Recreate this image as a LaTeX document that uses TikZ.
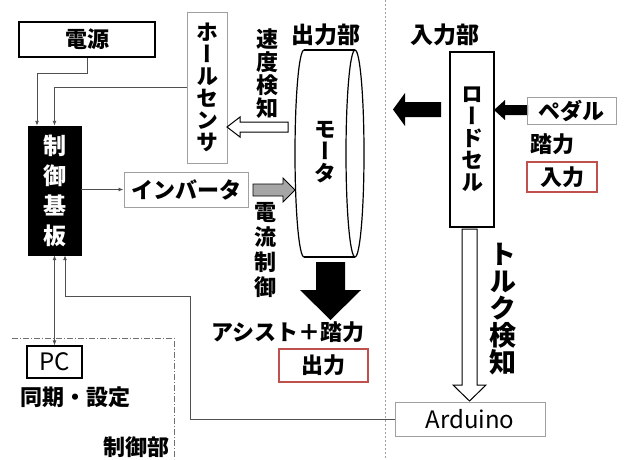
\documentclass[tikz,border=0pt]{standalone}
\usepackage{fontspec}
\setmainfont{Noto Sans CJK JP}
\newfontfamily\vjp[RawFeature=+vert]{Noto Sans CJK JP}
\usetikzlibrary{arrows.meta,calc}
\definecolor{boxgray}{HTML}{A0A0A0}
\definecolor{redbox}{HTML}{C0504D}
\definecolor{linegray}{HTML}{505050}
\definecolor{arrgray}{HTML}{A6A6A6}
\begin{document}
\begin{tikzpicture}[x=1pt,y=-1pt,
  jp/.style={font=\bfseries\fontsize{22}{22}\selectfont, inner sep=0pt},
  vt/.style={font=\vjp\bfseries\fontsize{22}{22}\selectfont, align=center, inner sep=0pt},
  blackbox/.style={draw=black, line width=1.3pt, inner sep=0pt},
  graybox/.style={draw=boxgray, line width=1pt, inner sep=0pt},
  redframe/.style={draw=redbox, line width=1.3pt, inner sep=0pt},
  conn/.style={draw=linegray, line width=0.9pt, -{Latex[length=5pt,width=4pt]}},
  connboth/.style={draw=linegray, line width=0.9pt, {Latex[length=5pt,width=4pt]}-{Latex[length=5pt,width=4pt]}},
  hollow/.style={draw=black, fill=white, line width=1pt, line join=miter},
  solidarrow/.style={fill=black},
  greyarrow/.style={draw=black, fill=arrgray, line width=0.8pt},
  cyl/.style={draw=black, line width=1.2pt},
]
\useasboundingbox (0,0) rectangle (628,459);

% separators
\draw[boxgray, line width=1pt, dash pattern=on 2pt off 2pt] (385,0) -- (385,459);
\draw[boxgray!70!black, line width=0.8pt, dash pattern=on 6pt off 2pt on 1pt off 2pt] (12,338) -- (174,338) -- (174,459);

% control part
\node[blackbox, jp, minimum width=136, minimum height=35] (dengen) at (87,39.5) {電源};
\node[graybox, vt, minimum width=40, minimum height=151] (hall) at (207,87.5) {ホ\\ー\\ル\\セ\\ン\\サ};
\node[fill=black, draw=black, minimum width=53, minimum height=129, vt, text=white,
      font=\vjp\bfseries\fontsize{23}{30}\selectfont] (board) at (54.5,190.5) {制\\御\\基\\板};
\node[graybox, jp, minimum width=124, minimum height=35] (inv) at (186,189.5) {インバータ};
\node[blackbox, minimum width=55, minimum height=32, font=\fontsize{24}{24}\selectfont] (pc) at (54.5,362) {PC};
\node[jp] (sync) at (75.5,397) {同期・設定};
\node[jp] (ctrl) at (136,447) {制御部};

% labels
\node[vt, font=\vjp\bfseries\fontsize{22}{23}\selectfont] (speed) at (267,73.5) {速\\度\\検\\知};
\node[vt, font=\vjp\bfseries\fontsize{22}{25}\selectfont] (curr) at (265,250) {電\\流\\制\\御};
\node[jp, font=\bfseries\fontsize{23}{23}\selectfont] (outpart) at (326,35) {出力部};
\node[jp, font=\bfseries\fontsize{23}{23}\selectfont] (inpart) at (445,35) {入力部};

% motor
\node[minimum width=70, minimum height=207, inner sep=0pt] (motor) at (329.5,153.5) {};
\draw[cyl] (304,50) -- (355,50) (304,257) -- (355,257);
\draw[cyl] (355,153.5) ellipse [x radius=9pt, y radius=103.5pt];
\draw[cyl] (304,50) arc[start angle=90, end angle=270, x radius=9pt, y radius=103.5pt];
\node[vt] (motortext) at (325,152) {モ\\ー\\タ};

% block arrows around motor
\draw[hollow] (288,122) -- (240,122) -- (240,117) -- (227,127) -- (240,137) -- (240,132) -- (288,132) -- cycle;
\draw[greyarrow] (253,184) -- (283,184) -- (283,178) -- (295,190) -- (283,202) -- (283,196) -- (253,196) -- cycle;
\fill[solidarrow] (316,262) -- (345,262) -- (345,290) -- (361,290) -- (330.5,320) -- (300,290) -- (316,290) -- cycle;
\node[jp] (assist) at (288,332) {アシスト＋踏力};
\node[redframe, jp, minimum width=89, minimum height=33] (out) at (323.5,365.5) {出力};

% input part
\node[blackbox, vt, minimum width=44, minimum height=175] (lc) at (472,139.5) {ロ\\ー\\ド\\セ\\ル};
\fill[solidarrow] (441,102) -- (405,102) -- (405,93) -- (393,109.5) -- (405,126) -- (405,117) -- (441,117) -- cycle;
\fill[solidarrow] (528,105) -- (505,105) -- (505,100) -- (494,110) -- (505,120) -- (505,115) -- (528,115) -- cycle;
\node[graybox, jp, minimum width=89, minimum height=27] (pedal) at (571.5,110.5) {ペダル};
\node[jp] (force) at (552,144) {踏力};
\node[redframe, jp, minimum width=70, minimum height=30] (inp) at (562,177) {入力};
\draw[hollow] (462,229) -- (477,229) -- (477,385) -- (486,385) -- (469.5,401) -- (453,385) -- (462,385) -- cycle;
\node[vt, font=\vjp\bfseries\fontsize{27}{27}\selectfont] (torque) at (503,309) {ト\\ル\\ク\\検\\知};
\node[graybox, minimum width=150, minimum height=34, font=\fontsize{24}{24}\selectfont] (ard) at (470,419) {Arduino};

% connectors
\draw[conn] (dengen.south) -- ++(0,16) -| ([xshift=-17.5pt]board.north);
\draw[conn] (hall.west) -| (board.north);
\draw[conn] (board.east |- inv.west) -- (inv.west);
\draw[connboth] (board.south) -- (pc.north);
\coordinate (j1) at (190,296);
\draw[conn] (ard.west) -| (j1) -| ([xshift=10.5pt]board.south);
\end{tikzpicture}
\end{document}
